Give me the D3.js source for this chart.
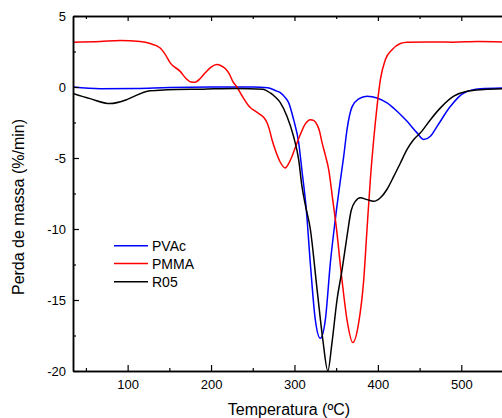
<!DOCTYPE html>
<html><head><meta charset="utf-8">
<script src="https://cdn.jsdelivr.net/npm/d3@7"></script>
<style>
body{margin:0;background:#fff}
svg{display:block}
text{font-family:"Liberation Sans",Arial,sans-serif;fill:#000}
</style>
</head><body>
<svg id="c" width="502" height="418"></svg>
<script>
// ---- data ----
const seriesNames = ["PVAc", "PMMA", "R05"];
const seriesColors = ["#0000ff", "#ff0000", "#000000"];
const xTicks = [100, 200, 300, 400, 500];
const xMinorTicks = [50, 150, 250, 350, 450, 550];
const yTicks = [5, 0, -5, -10, -15, -20];
const yMinorTicks = [2.5, -2.5, -7.5, -12.5, -17.5];

const pvacT = [34.5, 67, 110, 150, 200, 250, 268, 277, 283, 289, 293, 299, 305, 309, 314, 319, 325, 331, 337, 343, 349, 355, 359, 363, 369, 377, 387, 399, 411, 423, 435, 447, 455, 463, 471, 487, 503, 523, 550];
const pvacV = [0.0, -0.12, -0.1, -0.03, 0.0, 0.0, -0.05, -0.25, -0.4, -0.75, -1.1, -2.3, -3.9, -5.9, -8.5, -12.4, -16.4, -17.7, -16.4, -12.4, -9.3, -6.6, -4.9, -3.0, -1.4, -0.84, -0.65, -0.77, -1.12, -1.71, -2.42, -3.23, -3.7, -3.47, -2.77, -1.36, -0.42, -0.13, -0.07];

const pmmaT = [34.5, 67, 91, 115, 127, 139, 145, 151, 163, 170, 176, 181, 187, 193, 200, 207, 212, 217, 222, 226, 231, 238, 247, 253, 259, 264, 267, 270, 273, 278, 283, 289, 293, 297, 302, 307, 313, 319, 323, 327, 330, 333, 337, 341, 346, 350, 357, 363, 370, 377, 383, 387, 391, 395, 399, 403, 409, 417, 427, 435, 460, 490, 520, 550];
const pmmaV = [3.15, 3.2, 3.27, 3.2, 3.06, 2.75, 2.3, 1.7, 1.1, 0.6, 0.35, 0.33, 0.6, 1.0, 1.4, 1.58, 1.5, 1.3, 0.9, 0.4, 0.0, -0.7, -1.45, -1.7, -1.94, -2.2, -2.5, -3.0, -3.7, -4.6, -5.3, -5.7, -5.4, -4.9, -4.1, -3.35, -2.6, -2.3, -2.35, -2.65, -3.1, -3.9, -4.8, -5.8, -8.0, -9.8, -13.6, -16.4, -18.0, -16.6, -13.6, -10.0, -6.5, -3.7, -1.36, 0.52, 1.93, 2.63, 3.06, 3.15, 3.17, 3.16, 3.2, 3.17];

const r05T = [34.5, 55, 79, 99, 115, 127, 147, 190, 230, 262, 271, 277, 283, 291, 299, 305, 309, 313, 319, 327, 334, 340, 345, 351, 357, 363, 368, 373, 379, 387, 395, 403, 411, 419, 427, 435, 443, 451, 463, 475, 491, 507, 527, 550];
const r05V = [-0.45, -0.82, -1.17, -0.89, -0.47, -0.27, -0.2, -0.15, -0.1, -0.15, -0.42, -0.7, -1.1, -2.06, -3.5, -5.1, -7.0, -8.3, -10.0, -14.2, -17.8, -20.0, -18.0, -15.0, -12.9, -10.5, -8.7, -8.05, -7.8, -7.93, -8.05, -7.8, -7.2, -6.3, -5.35, -4.4, -3.7, -3.23, -2.3, -1.47, -0.65, -0.3, -0.18, -0.13];

const seriesT = [pvacT, pmmaT, r05T];
const seriesV = [pvacV, pmmaV, r05V];

// ---- chart ----
const svg = d3.select("#c");
const L = 73, R = 503, T = 16, B = 371;
const x = d3.scaleLinear().domain([34.5, 550]).range([L, R]);
const y = d3.scaleLinear().domain([-20, 5]).range([B, T]);

svg.append("defs").append("clipPath").attr("id", "clip")
  .append("rect").attr("x", L).attr("y", T).attr("width", R - L).attr("height", B - T);

const line = d3.line().curve(d3.curveMonotoneX);
const g = svg.append("g").attr("clip-path", "url(#clip)");
seriesNames.forEach((n, i) => {
  const pts = seriesT[i].map((t, j) => [x(t), y(seriesV[i][j])]);
  g.append("path").attr("d", line(pts)).attr("fill", "none")
    .attr("stroke", seriesColors[i]).attr("stroke-width", 1.5)
    .attr("stroke-linejoin", "round");
});

function styleAxis(sel) {
  sel.selectAll("path.domain").attr("stroke", "#000").attr("stroke-width", 1.5);
  sel.selectAll(".tick line").attr("stroke", "#000").attr("stroke-width", 1.2);
  sel.selectAll("text").attr("font-size", 13).attr("font-family", '"Liberation Sans",Arial,sans-serif');
}

// bottom
const gb = svg.append("g").attr("transform", `translate(0,${B})`)
  .call(d3.axisBottom(x).tickValues(xTicks).tickSizeInner(-6).tickSizeOuter(0).tickPadding(8.5).tickFormat(d => String(d)));
styleAxis(gb);
const gbm = svg.append("g").attr("transform", `translate(0,${B})`)
  .call(d3.axisBottom(x).tickValues(xMinorTicks).tickSizeInner(-3).tickSizeOuter(0).tickFormat(""));
styleAxis(gbm);
// top
const gt = svg.append("g").attr("transform", `translate(0,${T})`)
  .call(d3.axisTop(x).tickValues(xTicks).tickSizeInner(-5).tickSizeOuter(0).tickFormat(""));
styleAxis(gt);
const gtm = svg.append("g").attr("transform", `translate(0,${T})`)
  .call(d3.axisTop(x).tickValues(xMinorTicks).tickSizeInner(-3).tickSizeOuter(0).tickFormat(""));
styleAxis(gtm);
// left
const gl = svg.append("g").attr("transform", `translate(${L},0)`)
  .call(d3.axisLeft(y).tickValues(yTicks).tickSizeInner(-6).tickSizeOuter(0).tickPadding(7).tickFormat(d => String(d)));
styleAxis(gl);
const glm = svg.append("g").attr("transform", `translate(${L},0)`)
  .call(d3.axisLeft(y).tickValues(yMinorTicks).tickSizeInner(-3).tickSizeOuter(0).tickFormat(""));
styleAxis(glm);

// axis titles
svg.append("text").attr("x", 289).attr("y", 415).attr("text-anchor", "middle")
  .attr("font-size", 16).text("Temperatura (ºC)");
svg.append("text").attr("transform", "translate(24,207) rotate(-90)").attr("text-anchor", "middle")
  .attr("font-size", 16).text("Perda de massa (%/min)");

// legend
const legY = [245.7, 263.5, 281.7];
seriesNames.forEach((n, i) => {
  svg.append("line").attr("x1", 114).attr("x2", 148).attr("y1", legY[i]).attr("y2", legY[i])
    .attr("stroke", seriesColors[i]).attr("stroke-width", 1.5);
  svg.append("text").attr("x", 152).attr("y", legY[i] + 5).attr("font-size", 14).text(n);
});
</script>
</body></html>
